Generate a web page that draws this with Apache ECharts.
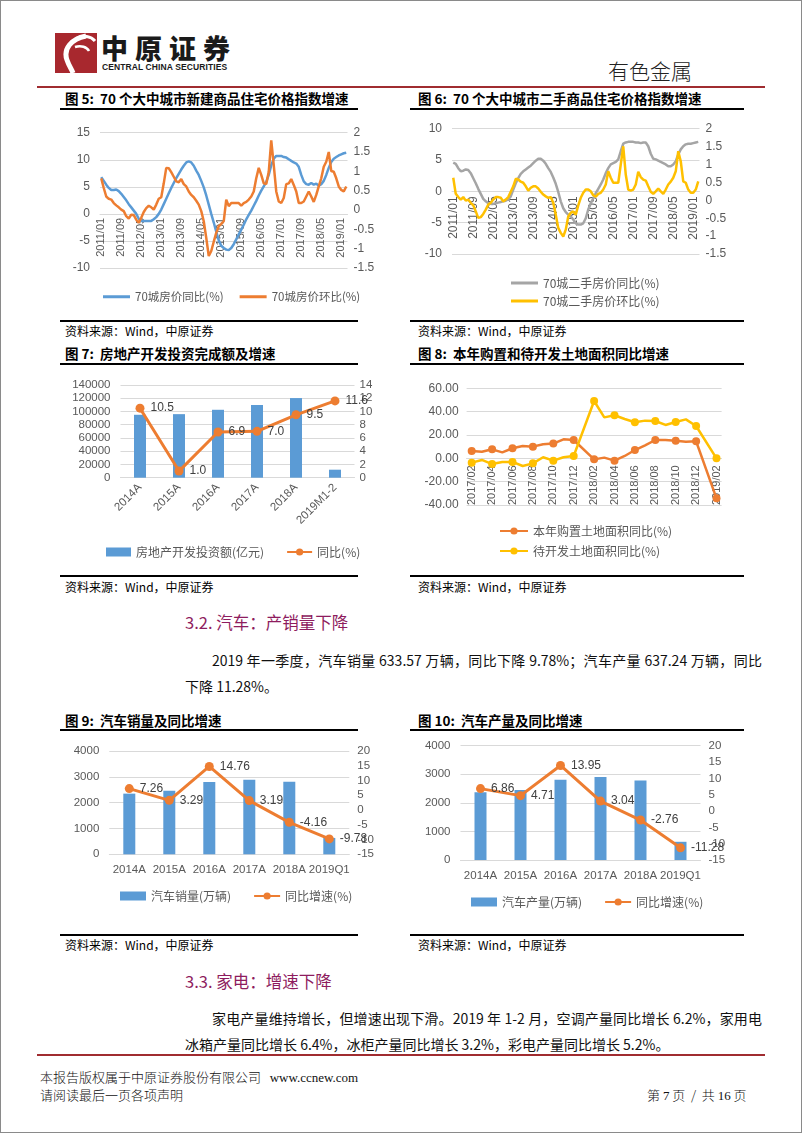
<!DOCTYPE html>
<html>
<head>
<meta charset="utf-8">
<script src="https://cdn.jsdelivr.net/npm/echarts/dist/echarts.min.js"></script>
<style>
html,body{margin:0;padding:0;background:#fff;}
#page{position:relative;width:802px;height:1133px;overflow:hidden;font-family:"Noto Sans CJK SC","Liberation Sans",sans-serif;color:#000;background:#fff;}
.abs{position:absolute;white-space:nowrap;}
.title{position:absolute;font-weight:bold;font-size:13.5px;line-height:16px;white-space:nowrap;}
.hl{position:absolute;height:2px;background:#000;}
.hs{position:absolute;height:1.5px;background:#000;}
.src{position:absolute;font-size:12px;line-height:14px;white-space:nowrap;}
.chart{position:absolute;}
.sec{position:absolute;font-size:16.5px;color:#8E1C5E;white-space:nowrap;line-height:20px;}
.para{position:absolute;font-size:14px;line-height:18px;white-space:nowrap;color:#111;}
.just{white-space:normal;text-align:justify;text-align-last:justify;}
.foot{position:absolute;font-size:13px;line-height:16px;white-space:nowrap;font-weight:300;color:#111;}
</style>
</head>
<body>
<div id="page">
  <!-- header -->
  <div class="abs" style="left:55px;top:33px;width:42px;height:40px;background:#A8282E;">
    <svg width="42" height="40" viewBox="0 0 42 40">
      <path d="M31 3 C16 6 8 16 12 27 C14 33 17 37 18 40" stroke="#fff" stroke-width="5" fill="none"/>
      <path d="M22 5 C28 2 36 3 40 8" stroke="#fff" stroke-width="3" fill="none"/>
      <path d="M20 14 C26 12 32 14 34 18" stroke="#fff" stroke-width="2.5" fill="none"/>
    </svg>
  </div>
  <div class="abs" style="left:101px;top:33px;font-size:27px;line-height:30px;font-weight:900;letter-spacing:7px;color:#1a1a1a;">中原证券</div>
  <div class="abs" style="left:102px;top:63px;font-size:8.5px;line-height:9px;font-weight:bold;font-family:'Liberation Sans',sans-serif;color:#1a1a1a;letter-spacing:0.1px;">CENTRAL CHINA SECURITIES</div>
  <div class="abs" style="left:608px;top:57px;font-size:21px;line-height:26px;font-weight:300;color:#222;">有色金属</div>
  <div class="abs" style="left:37px;top:86px;width:728px;height:2px;background:#A02C30;"></div>

  <!-- chart 5 -->
  <div class="title" style="left:65px;top:90px;">图 5:&nbsp; 70 个大中城市新建商品住宅价格指数增速</div>
  <div class="hl" style="left:60px;top:108px;width:298px;"></div>
  <div class="hs" style="left:60px;top:320px;width:298px;"></div>
  <div class="src" style="left:65px;top:324px;">资料来源：Wind，中原证券</div>

  <!-- chart 6 -->
  <div class="title" style="left:418px;top:90px;">图 6:&nbsp; 70 个大中城市二手商品住宅价格指数增速</div>
  <div class="hl" style="left:410px;top:108px;width:334px;"></div>
  <div class="hs" style="left:410px;top:320px;width:334px;"></div>
  <div class="src" style="left:418px;top:324px;">资料来源：Wind，中原证券</div>

  <!-- chart 7 -->
  <div class="title" style="left:65px;top:345px;">图 7:&nbsp; 房地产开发投资完成额及增速</div>
  <div class="hl" style="left:60px;top:363px;width:298px;"></div>
  <div class="hs" style="left:60px;top:575px;width:298px;"></div>
  <div class="src" style="left:65px;top:580px;">资料来源：Wind，中原证券</div>

  <!-- chart 8 -->
  <div class="title" style="left:418px;top:345px;">图 8:&nbsp; 本年购置和待开发土地面积同比增速</div>
  <div class="hl" style="left:410px;top:363px;width:334px;"></div>
  <div class="hs" style="left:410px;top:575px;width:334px;"></div>
  <div class="src" style="left:418px;top:580px;">资料来源：Wind，中原证券</div>

  <!-- section 3.2 -->
  <div class="sec" style="left:185px;top:612px;">3.2. 汽车：产销量下降</div>
  <div class="para just" style="left:212px;top:651px;width:550px;">2019 年一季度，汽车销量 633.57 万辆，同比下降 9.78%；汽车产量 637.24 万辆，同比</div>
  <div class="para" style="left:185px;top:677px;">下降 11.28%。</div>

  <!-- chart 9 -->
  <div class="title" style="left:65px;top:712px;">图 9:&nbsp; 汽车销量及同比增速</div>
  <div class="hl" style="left:60px;top:729px;width:298px;"></div>
  <div class="hs" style="left:60px;top:934px;width:298px;"></div>
  <div class="src" style="left:65px;top:938px;">资料来源：Wind，中原证券</div>

  <!-- chart 10 -->
  <div class="title" style="left:418px;top:712px;">图 10:&nbsp; 汽车产量及同比增速</div>
  <div class="hl" style="left:410px;top:729px;width:334px;"></div>
  <div class="hs" style="left:410px;top:934px;width:334px;"></div>
  <div class="src" style="left:418px;top:938px;">资料来源：Wind，中原证券</div>

  <!-- section 3.3 -->
  <div class="sec" style="left:185px;top:971px;">3.3. 家电：增速下降</div>
  <div class="para just" style="left:212px;top:1009px;width:550px;">家电产量维持增长，但增速出现下滑。2019 年 1-2 月，空调产量同比增长 6.2%，家用电</div>
  <div class="para" style="left:185px;top:1035px;">冰箱产量同比增长 6.4%，冰柜产量同比增长 3.2%，彩电产量同比增长 5.2%。</div>

  <!-- footer -->
  <div class="abs" style="left:37px;top:1054px;width:728px;height:2px;background:#A02C30;"></div>
  <div class="foot" style="left:40px;top:1069px;">本报告版权属于中原证券股份有限公司&nbsp;&nbsp;&nbsp;<span style="font-family:'Liberation Serif','DejaVu Serif',serif;font-weight:normal;">www.ccnew.com</span></div>
  <div class="foot" style="left:40px;top:1087px;">请阅读最后一页各项声明</div>
  <div class="foot" style="left:647px;top:1087px;">第 <span style="font-family:'Liberation Serif',serif;">7</span> 页 &nbsp;/ &nbsp;共 <span style="font-family:'Liberation Serif',serif;">16</span> 页</div>

  <!-- chart canvases (transparent, above text) -->
  <div id="c5" class="chart" style="left:60px;top:112px;width:340px;height:215px;"></div>
  <div id="c6" class="chart" style="left:410px;top:112px;width:360px;height:215px;"></div>
  <div id="c7" class="chart" style="left:60px;top:365px;width:330px;height:210px;"></div>
  <div id="c8" class="chart" style="left:410px;top:365px;width:360px;height:210px;"></div>
  <div id="c9" class="chart" style="left:60px;top:738px;width:330px;height:190px;"></div>
  <div id="c10" class="chart" style="left:410px;top:733px;width:360px;height:195px;"></div>

  <div class="abs" style="left:0;top:0;width:800px;height:1131px;border:1px solid #8a8a8a;"></div>
</div>

<script>
// ---------- data ----------
const months = [];
for (let y = 2011; y <= 2019; y++) {
  for (let m = 1; m <= 12; m++) {
    if (y === 2019 && m > 3) break;
    months.push(y + '/' + (m < 10 ? '0' + m : '' + m));
  }
}
// 图5: 70城新建商品住宅
const newYoY = [6.8,6.1,5.4,4.8,4.4,4.4,4.5,4.2,3.7,3.1,
  2.5,1.8,1.2,0.6,0,-0.9,-1.3,-1.3,-1.3,-1.3,
  -1.3,-1.0,-0.6,0,0.8,1.8,2.8,3.8,4.8,5.7,
  6.6,7.4,8.2,8.9,9.5,9.7,9.5,8.9,8.0,7.2,
  6.1,4.9,3.4,1.7,0,-1.6,-3.3,-4.9,-5.9,-6.3,
  -6.6,-6.7,-6.3,-5.6,-4.7,-3.8,-2.9,-2.0,-1.0,-0.2,
  0.6,1.5,2.4,3.4,4.3,5.1,5.9,7.2,9.0,10.2,
  10.7,10.7,10.7,10.5,10.4,10.1,9.8,9.5,9.3,8.7,
  7.2,6.0,5.5,5.4,5.7,5.4,5.6,5.2,5.5,6.1,
  7.2,8.5,9.6,10.2,10.5,10.8,11.0,11.2,11.3];
const newMoM = [0.82,0.57,0.35,0.29,0.27,0.18,0.12,0.07,0.01,-0.03,
  -0.16,-0.22,-0.12,-0.13,-0.25,-0.33,-0.2,-0.05,0.05,0.11,
  0.07,0.01,0.14,0.29,0.33,0.69,1.09,1.08,0.98,0.86,
  0.74,0.72,0.80,0.67,0.61,0.48,0.39,0.33,0.24,0.14,
  -0.03,-0.29,-0.72,-1.19,-1.06,-0.82,-0.59,-0.42,-0.36,-0.29,
  0.27,0.10,0.18,0.18,0.18,0.18,0.11,0.18,0.21,0.27,
  0.35,0.48,0.82,1.09,0.91,0.69,0.67,0.99,1.80,1.16,
  0.48,0.22,0.18,0.31,0.67,0.69,0.80,0.65,0.48,0.18,
  0.18,0.22,0.35,0.48,0.35,0.21,0.39,0.61,0.82,1.12,
  1.25,1.50,1.01,0.99,0.82,0.61,0.52,0.48,0.61];
// 图6: 70城二手住宅
const secYoY = [4.6,4.4,3.7,3.2,3.3,3.5,3.4,2.9,2.1,1.3,
  0.4,-0.4,-1.2,-1.6,-1.9,-2.0,-2.0,-1.9,-1.8,-1.7,
  -1.6,-1.5,-1.3,-0.8,0.3,1.3,2.1,2.8,3.2,3.5,
  3.8,4.1,4.5,4.9,5.2,5.2,4.9,4.4,3.7,3.1,
  2.2,1.2,-0.1,-1.6,-2.7,-3.3,-3.7,-4.0,-4.5,-5.1,
  -5.3,-5.3,-5.1,-4.3,-2.9,-1.9,-1.1,-0.3,0.4,1.1,
  1.9,2.9,3.7,4.3,4.5,4.7,5.1,6.4,7.6,7.8,
  7.9,7.9,7.9,7.8,7.8,7.7,7.8,7.8,7.2,6.0,
  5.2,5.1,4.9,4.7,4.5,4.3,4.0,4.0,4.3,4.8,
  5.9,6.7,7.2,7.5,7.6,7.6,7.7,7.8,7.9];
const secMoM = [0.63,0.18,0.09,0.02,0.09,-0.01,0.02,-0.07,-0.14,-0.31,
  -0.49,-0.47,-0.38,-0.26,-0.12,-0.07,0.02,0.09,0.09,0.07,
  -0.03,0.02,0.09,0.24,0.39,0.60,0.58,0.52,0.49,0.39,
  0.27,0.35,0.39,0.39,0.33,0.24,0.16,0.11,0.07,0.09,
  -0.07,-0.40,-0.77,-0.91,-1.01,-0.82,-0.45,-0.35,-0.31,-0.40,
  -0.14,0.07,0.21,0.30,0.30,0.25,0.14,0.10,0.18,0.21,
  0.30,0.44,0.81,0.63,0.49,0.49,0.49,1.00,1.51,0.72,
  0.30,0.27,0.30,0.44,0.80,0.65,0.58,0.55,0.39,0.24,
  0.18,0.25,0.33,0.25,0.18,0.30,0.44,0.52,0.63,0.81,
  1.37,1.09,0.53,0.49,0.30,0.21,0.21,0.30,0.53];
// 图7: 房地产开发投资
const invCats = ['2014A','2015A','2016A','2017A','2018A','2019M1-2'];
const invAmount = [95036, 95979, 102581, 109799, 120264, 12090];
const invYoY = [10.5, 1.0, 6.9, 7.0, 9.5, 11.6];
// 图8: 土地
const landMonths = ['2017/02','2017/03','2017/04','2017/05','2017/06','2017/07','2017/08','2017/09','2017/10','2017/11','2017/12',
  '2018/01','2018/02','2018/03','2018/04','2018/05','2018/06','2018/07','2018/08','2018/09','2018/10','2018/11','2018/12',
  '2019/01','2019/02'];
const landBuy = [6.3,5.7,7.7,5.1,8.6,10.6,10.0,12.0,12.6,16.3,15.7,null,-0.9,0.6,-2.0,2.0,7.1,11.1,15.7,15.7,15.1,14.3,14.6,null,-34.3];
const landIdle = [-3.7,-1.4,-4.9,-3.1,-3.1,-6.6,-4.3,0.9,-2.0,0.9,2.0,null,49.1,35.1,36.9,33.7,30.9,32.3,32.0,28.6,31.1,33.4,27.7,null,0];
// 图9/10: 汽车
const autoCats = ['2014A','2015A','2016A','2017A','2018A','2019Q1'];
const autoSales = [2349, 2460, 2803, 2888, 2808, 634];
const salesYoY = [7.26, 3.29, 14.76, 3.19, -4.16, -9.78];
const autoProd = [2372, 2450, 2812, 2902, 2781, 637];
const prodYoY = [6.86, 4.71, 13.95, 3.04, -2.76, -11.28];

// ---------- styles ----------
const TXT = '#595959', GRIDC = '#D9D9D9';
const NUMF = '"Liberation Sans","Noto Sans CJK SC",sans-serif';
const CJKF = '"Noto Sans CJK SC","Liberation Sans",sans-serif';
const BLUE = '#5B9BD5', ORANGE = '#ED7D31', GRAY = '#A5A5A5', YELLOW = '#FFC000';

function valAxis(min, max, interval, opts) {
  opts = opts || {};
  return Object.assign({
    type: 'value', min: min, max: max, interval: interval,
    axisLine: {show: false}, axisTick: {show: false},
    axisLabel: {color: TXT, fontSize: opts.fs || 12, fontFamily: NUMF, margin: opts.margin || 8,
      formatter: opts.fmt || (v => String(v))},
    splitLine: {show: opts.split !== false, lineStyle: {color: GRIDC, width: 1}}
  }, opts.position ? {position: opts.position} : {});
}
function legendText(fs) { return {color: TXT, fontSize: fs || 12, fontFamily: CJKF}; }
// x axis placed at the zero line of the left value axis (offset measured from grid bottom)
function zeroOffset(gridH, min, max) { return -gridH * (0 - min) / (max - min); }

// ---------- chart 5 ----------
const g5 = {left: 40, top: 20.7, width: 247.5, height: 135.3};
echarts.init(document.getElementById('c5')).setOption({
  animation: false,
  grid: g5,
  legend: {left: 38, top: 174, width: 300, itemWidth: 27, itemHeight: 3, itemGap: 16, textStyle: legendText(11.5),
    data: [{name: '70城房价同比(%)', icon: 'rect'}, {name: '70城房价环比(%)', icon: 'rect'}]},
  xAxis: {type: 'category', data: months, boundaryGap: true, offset: zeroOffset(g5.height, -10, 15),
    axisLine: {onZero: false, lineStyle: {color: GRIDC}},
    axisTick: {show: false},
    axisLabel: {interval: 7, rotate: 90, color: TXT, fontSize: 11, fontFamily: NUMF, margin: 4}},
  yAxis: [valAxis(-10, 15, 5, {margin: 10}), valAxis(-1.5, 2, 0.5, {position: 'right', split: false, margin: 6})],
  series: [
    {type: 'line', name: '70城房价同比(%)', data: newYoY, yAxisIndex: 0, symbol: 'none',
      lineStyle: {width: 2.5, color: BLUE}, itemStyle: {color: BLUE}},
    {type: 'line', name: '70城房价环比(%)', data: newMoM, yAxisIndex: 1, symbol: 'none',
      lineStyle: {width: 2.5, color: ORANGE}, itemStyle: {color: ORANGE}}
  ]
});

// ---------- chart 6 ----------
const g6 = {left: 42, top: 16.7, width: 247.5, height: 125.3};
echarts.init(document.getElementById('c6')).setOption({
  animation: false,
  grid: g6,
  legend: {orient: 'vertical', left: 96, top: 160, height: 50, itemWidth: 27, itemHeight: 3, itemGap: 6, textStyle: legendText(12),
    data: [{name: '70城二手房价同比(%)', icon: 'rect'}, {name: '70城二手房价环比(%)', icon: 'rect'}]},
  xAxis: {type: 'category', data: months, boundaryGap: true, offset: zeroOffset(g6.height, -10, 10),
    axisLine: {onZero: false, lineStyle: {color: GRIDC}},
    axisTick: {show: false},
    axisLabel: {interval: 7, rotate: 90, color: TXT, fontSize: 12, fontFamily: NUMF, margin: 5}},
  yAxis: [valAxis(-10, 10, 5, {margin: 10}), valAxis(-1.5, 2, 0.5, {position: 'right', split: false, margin: 6})],
  series: [
    {type: 'line', name: '70城二手房价同比(%)', data: secYoY, yAxisIndex: 0, symbol: 'none',
      lineStyle: {width: 2.5, color: GRAY}, itemStyle: {color: GRAY}},
    {type: 'line', name: '70城二手房价环比(%)', data: secMoM, yAxisIndex: 1, symbol: 'none',
      lineStyle: {width: 2.5, color: YELLOW}, itemStyle: {color: YELLOW}}
  ]
});

// ---------- chart 7 ----------
echarts.init(document.getElementById('c7')).setOption({
  animation: false,
  grid: {left: 60.5, top: 20, width: 234, height: 92.7},
  legend: {left: 41, top: 176, width: 285, itemWidth: 25, itemHeight: 9, itemGap: 22, textStyle: legendText(12),
    data: [{name: '房地产开发投资额(亿元)', icon: 'rect'}, {name: '同比(%)'}]},
  xAxis: {type: 'category', data: invCats,
    axisLine: {lineStyle: {color: GRIDC}}, axisTick: {show: false},
    axisLabel: {interval: 0, rotate: 45, color: TXT, fontSize: 11.5, fontFamily: NUMF, margin: 8}},
  yAxis: [valAxis(0, 140000, 20000, {fs: 11.5, margin: 10}), valAxis(0, 14, 2, {position: 'right', split: false, fs: 11.5, margin: 5})],
  series: [
    {type: 'bar', name: '房地产开发投资额(亿元)', data: invAmount, yAxisIndex: 0, barWidth: 12, itemStyle: {color: BLUE}},
    {type: 'line', name: '同比(%)', data: invYoY, yAxisIndex: 1, symbol: 'circle', symbolSize: 9,
      lineStyle: {width: 3, color: ORANGE}, itemStyle: {color: ORANGE},
      label: {show: true, position: 'right', distance: 6, color: '#404040', fontSize: 12, fontFamily: NUMF,
        formatter: p => p.value.toFixed(1)}}
  ]
});

// ---------- chart 8 ----------
const g8 = {left: 56.6, top: 23.3, width: 255, height: 116.7};
echarts.init(document.getElementById('c8')).setOption({
  animation: false,
  grid: g8,
  legend: {orient: 'vertical', left: 84, top: 155, height: 50, itemWidth: 28, itemHeight: 9, itemGap: 8, textStyle: legendText(12),
    data: ['本年购置土地面积同比(%)', '待开发土地面积同比(%)']},
  xAxis: {type: 'category', data: landMonths, boundaryGap: true, offset: zeroOffset(g8.height, -40, 60),
    axisLine: {onZero: false, lineStyle: {color: GRIDC}}, axisTick: {show: false},
    axisLabel: {interval: 1, rotate: 90, color: TXT, fontSize: 11, fontFamily: NUMF, margin: 7}},
  yAxis: valAxis(-40, 60, 20, {margin: 8, fmt: v => v.toFixed(2)}),
  series: [
    {type: 'line', name: '本年购置土地面积同比(%)', data: landBuy, connectNulls: true, symbol: 'circle', symbolSize: 8,
      lineStyle: {width: 2.5, color: ORANGE}, itemStyle: {color: ORANGE}},
    {type: 'line', name: '待开发土地面积同比(%)', data: landIdle, connectNulls: true, symbol: 'circle', symbolSize: 8,
      lineStyle: {width: 2.5, color: YELLOW}, itemStyle: {color: YELLOW}}
  ]
});

// ---------- chart 9 & 10 ----------
function autoChart(id, grid, legendPos, barName, bars, yoy) {
  echarts.init(document.getElementById(id)).setOption({
    animation: false,
    grid: grid,
    legend: {left: legendPos[0], top: legendPos[1], width: 280, itemWidth: 26, itemHeight: 9, itemGap: 22, textStyle: legendText(12),
      data: [{name: barName, icon: 'rect'}, {name: '同比增速(%)'}]},
    xAxis: {type: 'category', data: autoCats,
      axisLine: {lineStyle: {color: GRIDC}}, axisTick: {show: false},
      axisLabel: {interval: 0, color: TXT, fontSize: 11.5, fontFamily: NUMF, margin: 10}},
    yAxis: [valAxis(0, 4000, 1000, {fs: 11.5, margin: 10}), valAxis(-15, 20, 5, {position: 'right', split: false, fs: 11.5, margin: 8})],
    series: [
      {type: 'bar', name: barName, data: bars, yAxisIndex: 0, barWidth: 12, itemStyle: {color: BLUE}},
      {type: 'line', name: '同比增速(%)', data: yoy, yAxisIndex: 1, symbol: 'circle', symbolSize: 9,
        lineStyle: {width: 3, color: ORANGE}, itemStyle: {color: ORANGE},
        label: {show: true, position: 'right', distance: 6, color: '#404040', fontSize: 12, fontFamily: NUMF}}
    ]
  });
}
autoChart('c9', {left: 49.3, top: 13, width: 240, height: 103.3}, [55, 147], '汽车销量(万辆)', autoSales, salesYoY);
autoChart('c10', {left: 50.5, top: 12.7, width: 240, height: 114.3}, [56, 158], '汽车产量(万辆)', autoProd, prodYoY);
</script>
</body>
</html>
